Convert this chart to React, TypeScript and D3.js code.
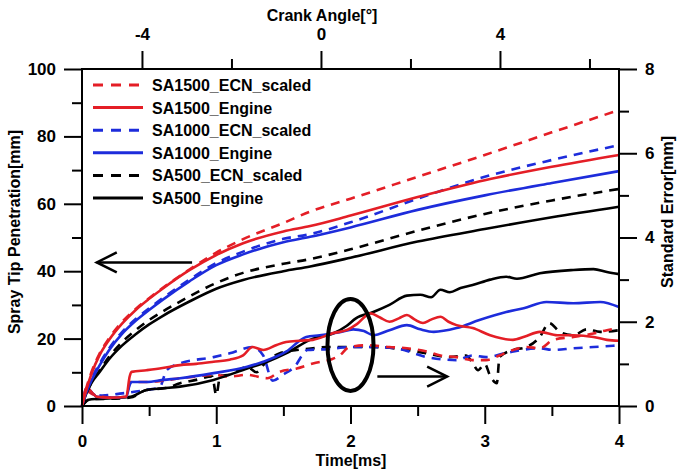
import React, { useEffect, useRef } from 'react';
import * as d3 from 'd3';

// penetration [mm] sampled on a common time grid [ms]
const TIME_PEN = [0, 0.03, 0.07, 0.13, 0.2, 0.3, 0.4, 0.5, 0.6, 0.8, 1.0, 1.2, 1.5, 1.7, 2.0, 2.5, 3.0, 3.5, 4.0];
const PEN_SA1500_ECN = [0, 5, 10, 15.5, 20, 25, 28.8, 32, 35, 40.5, 45.5, 49.5, 54.3, 57.7, 61.5, 68, 74.5, 81.2, 87.8];
const PEN_SA1500_ENG = [0, 4.5, 9.5, 15, 19.5, 24.5, 28.5, 31.8, 34.8, 40.3, 44.8, 48.3, 51.8, 53.4, 56.5, 62, 67, 71, 74.5];
const PEN_SA1000_ECN = [0, 4, 8, 12.5, 17, 22, 25.8, 29, 32, 37.5, 42.4, 45.8, 49.6, 51, 54.5, 61.5, 68, 73, 77.4];
const PEN_SA1000_ENG = [0, 3.8, 7.5, 12, 16.5, 21.5, 25.3, 28.5, 31.5, 37, 41.8, 45, 48.6, 50.2, 53, 58.2, 62.5, 66.2, 69.7];
const PEN_SA500_ECN = [0, 3.5, 7, 10.5, 14.5, 19, 22.5, 25.5, 28, 32.5, 36.5, 39.5, 42.2, 43.6, 46.5, 52, 57, 61, 64.4];
const PEN_SA500_ENG = [0, 3.5, 6.8, 10, 13.8, 18, 21.3, 24.2, 26.7, 31, 34.8, 37.4, 40, 41.4, 44, 48.8, 52.5, 56, 59.1];

// standard error [mm] as [time, value]
const SE_SA1500_ECN = [[0,0],[0.035,0.35],[0.08,0.28],[0.15,0.22],[0.25,0.2],[0.33,0.22],[0.36,0.57],[0.48,0.57],[0.6,0.6],[0.73,0.66],[0.85,0.7],[0.98,0.74],[1.1,0.7],[1.23,0.74],[1.38,0.66],[1.47,0.81],[1.6,0.89],[1.72,1.01],[1.85,1.1],[1.92,1.2],[1.99,1.4],[2.12,1.44],[2.29,1.4],[2.42,1.37],[2.57,1.29],[2.67,1.2],[2.79,1.16],[2.91,1.09],[3.01,1.09],[3.11,1.2],[3.21,1.33],[3.31,1.4],[3.41,1.37],[3.51,1.57],[3.66,1.64],[3.81,1.72],[3.91,1.8],[4.0,1.85]];
const SE_SA1500_ENG = [[0,0],[0.035,0.43],[0.08,0.3],[0.11,0.22],[0.2,0.2],[0.33,0.22],[0.355,0.7],[0.37,0.81],[0.48,0.85],[0.6,0.9],[0.73,0.97],[0.85,1.0],[0.98,1.05],[1.1,1.1],[1.2,1.2],[1.27,1.4],[1.35,1.33],[1.45,1.45],[1.52,1.52],[1.62,1.55],[1.72,1.57],[1.87,1.73],[1.97,1.8],[2.05,1.95],[2.15,2.2],[2.22,2.1],[2.29,2.0],[2.36,2.08],[2.42,2.16],[2.48,2.05],[2.54,1.97],[2.6,2.05],[2.67,2.12],[2.73,2.0],[2.79,1.92],[2.91,1.85],[3.04,1.68],[3.21,1.57],[3.3,1.65],[3.41,1.76],[3.54,1.68],[3.66,1.68],[3.81,1.64],[3.91,1.57],[4.0,1.55]];
const SE_SA1000_ECN = [[0,0],[0.035,0.4],[0.08,0.3],[0.15,0.25],[0.3,0.3],[0.48,0.38],[0.58,0.45],[0.63,0.85],[0.73,1.01],[0.98,1.16],[1.1,1.25],[1.27,1.4],[1.35,1.2],[1.42,0.6],[1.5,0.75],[1.58,0.92],[1.68,1.33],[1.83,1.35],[2.0,1.4],[2.17,1.4],[2.34,1.37],[2.57,1.16],[2.79,1.09],[2.91,1.2],[3.01,1.16],[3.16,1.26],[3.41,1.37],[3.51,1.33],[3.66,1.37],[3.81,1.4],[4.0,1.44]];
const SE_SA1000_ENG = [[0,0],[0.035,0.43],[0.08,0.3],[0.11,0.22],[0.2,0.2],[0.33,0.22],[0.355,0.5],[0.37,0.57],[0.48,0.57],[0.61,0.62],[0.73,0.66],[0.98,0.78],[1.23,0.93],[1.35,1.05],[1.52,1.29],[1.67,1.64],[1.77,1.68],[1.92,1.75],[2.02,1.82],[2.1,1.78],[2.17,1.68],[2.29,1.8],[2.42,1.92],[2.52,1.82],[2.62,1.76],[2.79,1.85],[2.96,2.04],[3.16,2.23],[3.29,2.32],[3.46,2.47],[3.66,2.44],[3.86,2.47],[4.0,2.35]];
const SE_SA500_ECN = [[0,0],[0.05,0.15],[0.11,0.17],[0.2,0.17],[0.36,0.2],[0.48,0.38],[0.63,0.43],[0.73,0.54],[0.85,0.62],[0.97,0.7],[1.0,0.26],[1.03,0.72],[1.1,0.74],[1.23,0.93],[1.3,0.8],[1.35,0.97],[1.47,1.25],[1.6,1.33],[1.72,1.37],[1.82,1.4],[2.0,1.4],[2.17,1.4],[2.42,1.33],[2.55,1.26],[2.74,1.16],[2.86,1.2],[2.91,1.02],[2.95,0.85],[3.0,1.0],[3.04,0.72],[3.09,0.54],[3.11,1.16],[3.21,1.33],[3.31,1.4],[3.41,1.64],[3.48,1.97],[3.56,1.76],[3.66,1.68],[3.76,1.82],[3.86,1.76],[4.0,1.8]];
const SE_SA500_ENG = [[0,0],[0.05,0.15],[0.11,0.17],[0.2,0.18],[0.36,0.22],[0.48,0.38],[0.6,0.42],[0.73,0.46],[0.98,0.62],[1.23,0.89],[1.38,1.05],[1.52,1.25],[1.72,1.6],[1.87,1.72],[1.97,1.9],[2.04,2.08],[2.17,2.23],[2.29,2.4],[2.42,2.62],[2.52,2.64],[2.6,2.58],[2.67,2.76],[2.74,2.7],[2.82,2.8],[2.91,2.87],[3.04,3.0],[3.16,3.07],[3.24,3.02],[3.41,3.15],[3.66,3.23],[3.81,3.25],[3.91,3.18],[4.0,3.13]];

const LEGEND = ['SA1500_ECN_scaled', 'SA1500_Engine', 'SA1000_ECN_scaled', 'SA1000_Engine', 'SA500_ECN_scaled', 'SA500_Engine'];

const RED = '#e41e26';
const BLUE = '#1d2cdb';
const BLACK = '#000';
const FONT = '"Liberation Sans", Arial, sans-serif';

const App = () => {
  const svgRef = useRef(null);

  useEffect(() => {
    const width = 677;
    const height = 474;
    const m = { left: 82, right: 58, top: 69, bottom: 68 };
    const svg = d3.select(svgRef.current);
    svg.selectAll('*').remove();
    svg.attr('width', width).attr('height', height);

    const x = d3.scaleLinear().domain([0, 4]).range([m.left, width - m.right]);
    const xTop = d3.scaleLinear().domain([-5.34, 6.66]).range([m.left, width - m.right]);
    const y = d3.scaleLinear().domain([0, 100]).range([height - m.bottom, m.top]);
    const yR = d3.scaleLinear().domain([0, 8]).range([height - m.bottom, m.top]);

    const styleAxis = (g, labels) => {
      g.select('.domain').remove();
      g.selectAll('line').attr('stroke', '#000').attr('stroke-width', 2);
      g.selectAll('text')
        .attr('font-family', FONT)
        .attr('font-weight', 'bold')
        .attr('font-size', 17)
        .attr('fill', '#000');
      if (!labels) g.selectAll('text').remove();
    };

    // minor ticks
    svg.append('g').attr('transform', `translate(0,${height - m.bottom})`)
      .call(d3.axisBottom(x).tickValues([0.5, 1.5, 2.5, 3.5]).tickSize(10)).call(g => styleAxis(g, false));
    svg.append('g').attr('transform', `translate(0,${m.top})`)
      .call(d3.axisTop(xTop).tickValues([-2, 2, 6]).tickSize(10)).call(g => styleAxis(g, false));
    svg.append('g').attr('transform', `translate(${m.left},0)`)
      .call(d3.axisLeft(y).tickValues([10, 30, 50, 70, 90]).tickSize(10)).call(g => styleAxis(g, false));
    svg.append('g').attr('transform', `translate(${width - m.right},0)`)
      .call(d3.axisRight(yR).tickValues([1, 3, 5, 7]).tickSize(10)).call(g => styleAxis(g, false));

    // major ticks
    svg.append('g').attr('transform', `translate(0,${height - m.bottom})`)
      .call(d3.axisBottom(x).tickValues([0, 1, 2, 3, 4]).tickFormat(d3.format('d')).tickSize(18).tickPadding(11))
      .call(g => styleAxis(g, true));
    svg.append('g').attr('transform', `translate(0,${m.top})`)
      .call(d3.axisTop(xTop).tickValues([-4, 0, 4]).tickFormat(d => String(d)).tickSize(18).tickPadding(11))
      .call(g => styleAxis(g, true));
    svg.append('g').attr('transform', `translate(${m.left},0)`)
      .call(d3.axisLeft(y).tickValues([0, 20, 40, 60, 80, 100]).tickSize(18).tickPadding(8))
      .call(g => styleAxis(g, true));
    svg.append('g').attr('transform', `translate(${width - m.right},0)`)
      .call(d3.axisRight(yR).tickValues([0, 2, 4, 6, 8]).tickSize(18).tickPadding(8))
      .call(g => styleAxis(g, true));

    const line = d3.line().curve(d3.curveMonotoneX);

    const seSeries = [
      { d: SE_SA500_ECN, c: BLACK, dash: true },
      { d: SE_SA1000_ECN, c: BLUE, dash: true },
      { d: SE_SA1500_ECN, c: RED, dash: true },
      { d: SE_SA500_ENG, c: BLACK, dash: false },
      { d: SE_SA1000_ENG, c: BLUE, dash: false },
      { d: SE_SA1500_ENG, c: RED, dash: false },
    ];
    seSeries.forEach(s => {
      svg.append('path')
        .attr('d', line(s.d.map(p => [x(p[0]), yR(p[1])])))
        .attr('fill', 'none')
        .attr('stroke', s.c)
        .attr('stroke-width', 2.6)
        .attr('stroke-dasharray', s.dash ? '9,7' : null);
    });

    const penSeries = [
      { d: PEN_SA500_ENG, c: BLACK, dash: false },
      { d: PEN_SA500_ECN, c: BLACK, dash: true },
      { d: PEN_SA1000_ENG, c: BLUE, dash: false },
      { d: PEN_SA1000_ECN, c: BLUE, dash: true },
      { d: PEN_SA1500_ENG, c: RED, dash: false },
      { d: PEN_SA1500_ECN, c: RED, dash: true },
    ];
    penSeries.forEach(s => {
      svg.append('path')
        .attr('d', line(s.d.map((v, i) => [x(TIME_PEN[i]), y(v)])))
        .attr('fill', 'none')
        .attr('stroke', s.c)
        .attr('stroke-width', 2.6)
        .attr('stroke-dasharray', s.dash ? '9,7' : null);
    });

    // frame
    svg.append('rect')
      .attr('x', m.left).attr('y', m.top)
      .attr('width', width - m.left - m.right).attr('height', height - m.top - m.bottom)
      .attr('fill', 'none').attr('stroke', '#000').attr('stroke-width', 2);

    // legend
    const legColors = [RED, RED, BLUE, BLUE, BLACK, BLACK];
    LEGEND.forEach((name, i) => {
      const ly = 85 + i * 22.6;
      svg.append('line')
        .attr('x1', 93).attr('x2', 143).attr('y1', ly).attr('y2', ly)
        .attr('stroke', legColors[i]).attr('stroke-width', 3)
        .attr('stroke-dasharray', i % 2 === 0 ? '10,8' : null);
      svg.append('text')
        .attr('x', 152).attr('y', ly + 6)
        .attr('font-family', FONT).attr('font-weight', 'bold').attr('font-size', 16)
        .text(name);
    });

    // annotations
    const ann = svg.append('g').attr('stroke', '#000').attr('fill', 'none');
    const la = { x1: x(0.82), x2: x(0.11), y: y(42.6) };
    ann.append('line').attr('x1', la.x1).attr('x2', la.x2).attr('y1', la.y).attr('y2', la.y).attr('stroke-width', 2.5);
    ann.append('path').attr('d', `M${la.x2 + 20},${la.y - 10}L${la.x2},${la.y}L${la.x2 + 20},${la.y + 10}`).attr('stroke-width', 2.5);
    const ra = { x1: x(2.2), x2: x(2.72), y: yR(0.7) };
    ann.append('line').attr('x1', ra.x1).attr('x2', ra.x2).attr('y1', ra.y).attr('y2', ra.y).attr('stroke-width', 2.5);
    ann.append('path').attr('d', `M${ra.x2 - 20},${ra.y - 10}L${ra.x2},${ra.y}L${ra.x2 - 20},${ra.y + 10}`).attr('stroke-width', 2.5);
    ann.append('ellipse')
      .attr('cx', x(2.0)).attr('cy', yR(1.45))
      .attr('rx', 23).attr('ry', 46)
      .attr('stroke-width', 4);

    // axis titles
    const title = (tx, ty, text, rot) => {
      svg.append('text')
        .attr('transform', `translate(${tx},${ty}) rotate(${rot})`)
        .attr('text-anchor', 'middle')
        .attr('font-family', FONT).attr('font-weight', 'bold').attr('font-size', 16)
        .text(text);
    };
    title(322, 21, 'Crank Angle[°]', 0);
    title(351, 466, 'Time[ms]', 0);
    title(20, 232, 'Spray Tip Penetration[mm]', -90);
    title(673, 212, 'Standard Error[mm]', -90);
  }, []);

  return (
    <div style={{ position: 'absolute', left: 0, top: 0 }}>
      <svg ref={svgRef}></svg>
    </div>
  );
};

export default App;
